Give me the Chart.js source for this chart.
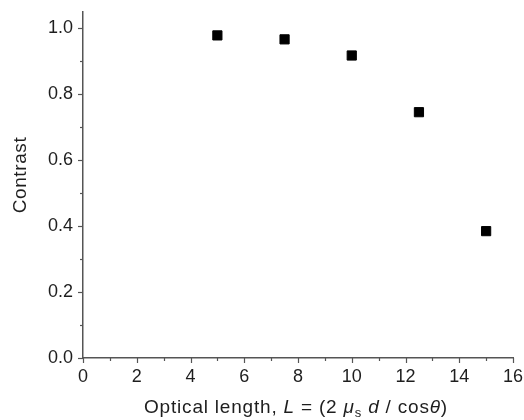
<!DOCTYPE html>
<html>
<head>
<meta charset="utf-8">
<script src="https://cdn.jsdelivr.net/npm/chart.js@4.4.0/dist/chart.umd.min.js"></script>
<style>
html,body{margin:0;padding:0;background:#fff;}
#wrap{width:524px;height:420px;position:relative;}
</style>
</head>
<body>
<div id="wrap"><canvas id="c" width="524" height="420"></canvas></div>
<script>
const opticalLength = [5, 7.5, 10, 12.5, 15];
const contrast = [0.979, 0.967, 0.918, 0.746, 0.385];
const xTicks = [0, 2, 4, 6, 8, 10, 12, 14, 16];
const yTicks = [0.0, 0.2, 0.4, 0.6, 0.8, 1.0];
const yTitle = 'Contrast';
const xTitleParts = [
  {t: 'Optical length, ', it: false},
  {t: 'L', it: true},
  {t: ' = (2 ', it: false},
  {t: 'μ', it: true},
  {t: 's', it: false, sub: true},
  {t: ' ', it: false},
  {t: 'd', it: true},
  {t: ' / cos', it: false},
  {t: 'θ', it: true},
  {t: ')', it: false}
];

const AXIS = '#555555';
const TEXT = '#1e1e1e';
const FONT = '"Liberation Sans", Arial, sans-serif';

const tickPlugin = {
  id: 'ticksMinor',
  afterDraw(chart) {
    const ctx = chart.ctx;
    const xs = chart.scales.x, ys = chart.scales.y;
    const area = chart.chartArea;
    ctx.save();
    ctx.strokeStyle = AXIS;
    ctx.lineWidth = 1.2;
    for (let v = 0; v <= 16; v += 1) {
      const px = Math.round(xs.getPixelForValue(v)) + 0.5;
      const len = (v % 2 === 0) ? 5 : 3;
      ctx.beginPath();
      ctx.moveTo(px, area.bottom);
      ctx.lineTo(px, area.bottom + len);
      ctx.stroke();
    }
    for (let i = 0; i <= 10; i++) {
      const v = i / 10;
      const py = Math.round(ys.getPixelForValue(v)) + 0.5;
      const len = (i % 2 === 0) ? 5 : 3;
      ctx.beginPath();
      ctx.moveTo(area.left, py);
      ctx.lineTo(area.left - len, py);
      ctx.stroke();
    }
    const size = 19;
    ctx.fillStyle = TEXT;
    if ('letterSpacing' in ctx) ctx.letterSpacing = '0.6px';
    // y title
    ctx.save();
    ctx.translate(21, 175);
    ctx.rotate(-Math.PI / 2);
    ctx.font = size + 'px ' + FONT;
    ctx.textAlign = 'center';
    ctx.textBaseline = 'middle';
    ctx.fillText(yTitle, 0, 0);
    ctx.restore();
    if ('letterSpacing' in ctx) ctx.letterSpacing = '0.8px';
    // x title with mixed styles
    const parts = xTitleParts.map(p => {
      const f = (p.it ? 'italic ' : '') + (p.sub ? Math.round(size * 0.7) : size) + 'px ' + FONT;
      ctx.font = f;
      return {p, f, w: ctx.measureText(p.t).width};
    });
    const total = parts.reduce((a, b) => a + b.w, 0);
    let x = 296 - total / 2;
    const base = 413;
    ctx.textBaseline = 'alphabetic';
    ctx.textAlign = 'left';
    parts.forEach(o => {
      ctx.font = o.f;
      ctx.fillText(o.p.t, x, o.p.sub ? base + 4 : base);
      x += o.w;
    });
    ctx.restore();
  }
};

new Chart(document.getElementById('c'), {
  type: 'scatter',
  data: {
    datasets: [{
      data: opticalLength.map((x, i) => ({x, y: contrast[i]})),
      pointStyle: 'rect',
      pointRadius: 6.5,
      pointHoverRadius: 6.5,
      backgroundColor: '#000',
      borderColor: '#000',
      borderWidth: 1
    }]
  },
  options: {
    responsive: false,
    animation: false,
    devicePixelRatio: 1,
    layout: {padding: {left: 0, right: 11, top: 12, bottom: 0}},
    plugins: {legend: {display: false}, tooltip: {enabled: false}},
    scales: {
      x: {
        type: 'linear', min: 0, max: 16,
        afterFit(s) { s.height = 62; s.paddingLeft = 0; s.paddingRight = 0; },
        afterBuildTicks(s) { s.ticks = xTicks.map(v => ({value: v})); },
        grid: {display: false, drawTicks: false, tickLength: 0},
        border: {display: true, color: AXIS, width: 1.5},
        ticks: {color: TEXT, font: {family: FONT, size: 18}, padding: 8, maxRotation: 0,
          callback: v => String(v)},
        title: {display: false}
      },
      y: {
        type: 'linear', min: 0, max: 1.05,
        afterFit(s) { s.width = 83; s.paddingTop = 0; s.paddingBottom = 0; },
        afterBuildTicks(s) { s.ticks = yTicks.map(v => ({value: v})); },
        grid: {display: false, drawTicks: false, tickLength: 0},
        border: {display: true, color: AXIS, width: 1.5},
        ticks: {color: TEXT, font: {family: FONT, size: 18}, padding: 10,
          callback: v => Number(v).toFixed(1)},
        title: {display: false}
      }
    }
  },
  plugins: [tickPlugin]
});
</script>
</body>
</html>
